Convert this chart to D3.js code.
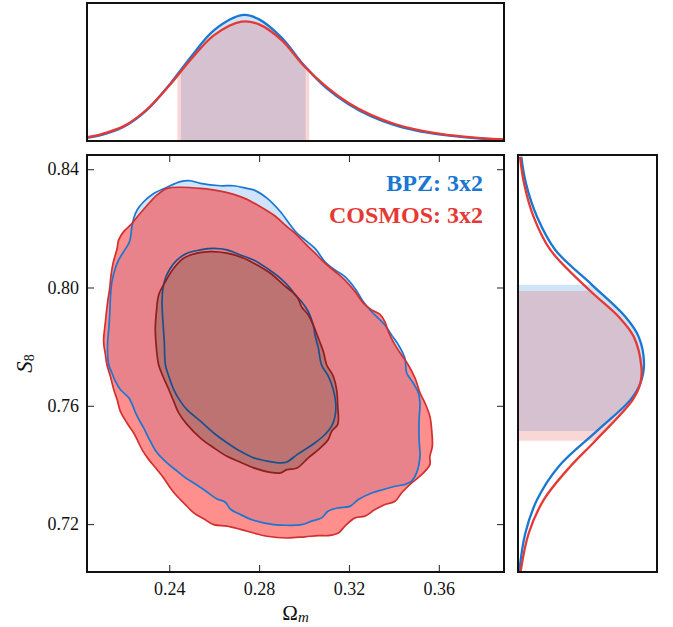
<!DOCTYPE html>
<html>
<head>
<meta charset="utf-8">
<script src="https://cdn.jsdelivr.net/npm/d3@7"></script>
<style>
html,body{margin:0;padding:0;background:#fff;}
svg{display:block;}
</style>
</head>
<body>
<svg id="chart" width="673" height="627"></svg>
<script>
// ---------------- DATA ----------------
const seriesNames = ["BPZ: 3x2", "COSMOS: 3x2"];
const xTicks = [0.24, 0.28, 0.32, 0.36];
const yTicks = [0.72, 0.76, 0.80, 0.84];
const xTickLabels = ["0.24", "0.28", "0.32", "0.36"];
const yTickLabels = ["0.72", "0.76", "0.80", "0.84"];

// 2D contours [Omega_m, S8]
const bpzOuter = [
[.2494,.8361],[.2539,.8352],[.2628,.8344],[.2687,.8344],[.2746,.8335],[.2776,.8330],[.2835,.8302],[.2895,.8256],[.2939,.8211],[.2969,.8183],
[.3004,.8161],[.3049,.8132],[.3093,.8087],[.3138,.8059],[.3182,.8037],[.3227,.7997],[.3264,.7952],[.3301,.7918],[.3331,.7896],[.3360,.7873],[.3390,.7839],[.3420,.7806],[.3449,.7761],
[.3457,.7711],[.3486,.7677],[.3509,.7644],[.3516,.7610],[.3512,.7553],[.3512,.7486],[.3516,.7429],[.3501,.7373],[.3479,.7345],[.3449,.7334],[.3405,.7328],[.3353,.7317],[.3301,.7305],[.3242,.7283],[.3204,.7260],[.3153,.7255],[.3108,.7244],[.3078,.7221],[.3034,.7210],[.2989,.7198],
[.2924,.7196],[.2865,.7198],[.2776,.7213],[.2717,.7232],[.2672,.7251],[.2650,.7274],[.2613,.7285],[.2553,.7317],[.2509,.7339],[.2479,.7353],[.2435,.7379],[.2390,.7407],[.2346,.7441],[.2316,.7480],[.2286,.7525],[.2257,.7565],[.2220,.7627],[.2182,.7655],[.2160,.7683],[.2145,.7711],
[.2131,.7738],[.2126,.7772],[.2126,.7817],[.2131,.7862],[.2135,.7907],[.2138,.7963],[.2145,.8020],[.2160,.8065],[.2175,.8093],[.2197,.8121],[.2220,.8149],[.2227,.8166],[.2234,.8206],[.2242,.8234],[.2257,.8262],[.2286,.8290],[.2331,.8318],[.2390,.8339],[.2450,.8358]
];
const cosmosOuter = [
[.2390,.8335],[.2450,.8339],[.2539,.8335],[.2628,.8326],[.2687,.8315],[.2746,.8298],[.2806,.8273],[.2865,.8245],[.2924,.8206],[.2969,.8177],
[.3004,.8149],[.3049,.8116],[.3093,.8082],[.3138,.8054],[.3182,.8025],[.3227,.7986],[.3264,.7947],[.3301,.7924],[.3338,.7909],[.3360,.7884],[.3375,.7851],[.3405,.7806],[.3434,.7772],[.3464,.7738],
[.3494,.7694],[.3516,.7644],[.3538,.7610],[.3560,.7565],[.3568,.7520],[.3571,.7463],[.3560,.7429],[.3560,.7401],[.3523,.7367],[.3479,.7339],[.3434,.7305],[.3405,.7277],[.3360,.7266],[.3316,.7249],[.3271,.7227],[.3227,.7221],[.3182,.7193],[.3153,.7170],[.3108,.7161],[.3064,.7161],[.3004,.7157],
[.2924,.7153],[.2835,.7159],[.2776,.7170],[.2717,.7182],[.2657,.7193],[.2598,.7198],[.2553,.7218],[.2509,.7238],[.2464,.7272],[.2435,.7294],[.2405,.7322],[.2375,.7356],[.2346,.7384],[.2309,.7418],[.2279,.7452],[.2264,.7475],[.2242,.7508],[.2212,.7542],[.2182,.7582],[.2168,.7621],[.2153,.7655],[.2138,.7700],
[.2123,.7738],[.2116,.7772],[.2108,.7817],[.2116,.7884],[.2126,.7952],[.2135,.7997],[.2141,.8042],[.2150,.8082],[.2168,.8132],[.2175,.8161],[.2197,.8189],[.2227,.8211],[.2271,.8251],[.2316,.8290],[.2346,.8313]
];
const bpzInner = [
[.2598,.8132],[.2657,.8127],[.2717,.8110],[.2776,.8093],[.2835,.8065],[.2895,.8031],[.2939,.7997],
[.2960,.7975],[.2989,.7952],[.3019,.7918],[.3041,.7873],[.3049,.7839],[.3064,.7794],[.3078,.7738],
[.3108,.7700],[.3130,.7655],[.3141,.7610],[.3138,.7565],[.3123,.7531],[.3093,.7503],[.3049,.7475],[.3004,.7452],
[.2969,.7435],[.2924,.7410],[.2895,.7407],[.2835,.7413],[.2776,.7424],[.2717,.7446],[.2657,.7475],[.2598,.7508],[.2539,.7548],[.2479,.7587],[.2450,.7615],[.2420,.7655],[.2398,.7700],
[.2383,.7738],[.2378,.7817],[.2372,.7884],[.2368,.7952],[.2372,.7997],[.2383,.8031],[.2405,.8065],[.2435,.8093],[.2479,.8116],[.2539,.8127]
];
const cosmosInner = [
[.2583,.8121],[.2657,.8116],[.2732,.8099],[.2791,.8076],[.2850,.8048],[.2910,.8008],[.2969,.7969],
[.2989,.7935],[.3019,.7907],[.3041,.7873],[.3064,.7828],[.3086,.7783],[.3101,.7738],
[.3130,.7700],[.3145,.7655],[.3150,.7598],[.3150,.7537],[.3123,.7514],[.3108,.7486],[.3064,.7452],[.3019,.7424],
[.2969,.7390],[.2924,.7384],[.2895,.7373],[.2850,.7375],[.2776,.7390],[.2717,.7409],[.2657,.7429],[.2598,.7458],[.2539,.7491],[.2479,.7537],[.2442,.7576],[.2420,.7615],[.2398,.7655],[.2372,.7700],
[.2353,.7738],[.2343,.7794],[.2338,.7862],[.2343,.7918],[.2353,.7975],[.2383,.8020],[.2420,.8065],[.2464,.8099],[.2524,.8116]
];

// 1D marginal of Omega_m [Omega_m, density]
const bpzOm = [[.2034,.024],[.21,.048],[.22,.115],[.23,.245],[.24,.445],[.25,.675],[.26,.88],[.273,1.0],[.28,.965],[.29,.82],[.30,.60],[.31,.42],[.32,.29],[.33,.195],[.34,.128],[.35,.083],[.36,.053],[.37,.032],[.38,.018],[.389,.01]];
const cosmosOm = [[.2034,.03],[.21,.055],[.22,.12],[.23,.25],[.24,.44],[.25,.655],[.26,.84],[.2722,.947],[.28,.925],[.29,.80],[.30,.595],[.31,.43],[.32,.30],[.33,.205],[.34,.137],[.35,.09],[.36,.058],[.37,.036],[.38,.021],[.389,.013]];
// 1D marginal of S8 [S8, density]
const bpzS8 = [[.7040,.010],[.7169,.058],[.7282,.151],[.7395,.323],[.7515,.627],[.7620,.892],[.7676,.971],[.7744,1.0],[.7834,.957],[.7901,.852],[.8009,.587],[.8127,.296],[.8239,.151],[.8352,.063],[.8442,.026]];
const cosmosS8 = [[.7040,.021],[.7169,.085],[.7282,.204],[.7395,.415],[.7482,.614],[.7620,.910],[.7676,.971],[.7732,.979],[.7834,.918],[.7901,.799],[.7988,.574],[.8127,.257],[.8239,.124],[.8352,.048],[.8442,.016]];
// 68% intervals
const bpzOmInt = [0.2452, 0.3007];
const cosmosOmInt = [0.2436, 0.3023];
const bpzS8Int = [0.7515, 0.8009];
const cosmosS8Int = [0.7482, 0.7988];

// ---------------- LAYOUT ----------------
const svg = d3.select("#chart");
const M = {l: 87, r: 504, t: 155, b: 572};
const T = {t: 3, b: 141};
const R = {l: 518, r: 657};

const x = d3.scaleLinear().domain([0.2034, 0.389]).range([M.l, M.r]);
const y = d3.scaleLinear().domain([0.7038, 0.8448]).range([M.b, M.t]);
const yTop = d3.scaleLinear().domain([0, 1.095]).range([T.b, T.t]);
const xRight = d3.scaleLinear().domain([0, 1.103]).range([R.l, R.r]);

const blue = "#1976D2", red = "#E53935";
const serif = "'Liberation Serif', 'Times New Roman', serif";

const defs = svg.append("defs");
defs.append("clipPath").attr("id","clipMain").append("rect")
  .attr("x", M.l).attr("y", M.t).attr("width", M.r - M.l).attr("height", M.b - M.t);
defs.append("clipPath").attr("id","clipTop").append("rect")
  .attr("x", M.l).attr("y", T.t).attr("width", M.r - M.l).attr("height", T.b - T.t);
defs.append("clipPath").attr("id","clipRight").append("rect")
  .attr("x", R.l).attr("y", M.t).attr("width", R.r - R.l).attr("height", M.b - M.t);

function intervalClipX(id, iv){
  defs.append("clipPath").attr("id", id).append("rect")
    .attr("x", x(iv[0])).attr("y", T.t).attr("width", x(iv[1]) - x(iv[0])).attr("height", T.b - T.t);
}
function intervalClipY(id, iv){
  defs.append("clipPath").attr("id", id).append("rect")
    .attr("x", R.l).attr("y", y(iv[1])).attr("width", R.r - R.l).attr("height", y(iv[0]) - y(iv[1]));
}
intervalClipX("ivTopB", bpzOmInt);
intervalClipX("ivTopC", cosmosOmInt);
intervalClipY("ivRightB", bpzS8Int);
intervalClipY("ivRightC", cosmosS8Int);

// ---------------- MAIN PANEL ----------------
const mainG = svg.append("g").attr("clip-path","url(#clipMain)");
const cline = d3.line().x(d => x(d[0])).y(d => y(d[1])).curve(d3.curveCatmullRomClosed.alpha(0.5));

mainG.append("path").attr("d", cline(bpzOuter)).attr("fill", "#cfe4fa");
mainG.append("path").attr("d", cline(cosmosOuter)).attr("fill", "rgb(255,48,44)").attr("fill-opacity", 0.54);
mainG.append("path").attr("d", cline(cosmosInner)).attr("fill", "rgb(147,99,91)").attr("fill-opacity", 0.5);

mainG.append("path").attr("d", cline(bpzOuter)).attr("fill","none").attr("stroke", blue).attr("stroke-width", 1.7);
mainG.append("path").attr("d", cline(cosmosOuter)).attr("fill","none").attr("stroke", "#d32f2f").attr("stroke-width", 1.7);
mainG.append("path").attr("d", cline(bpzInner)).attr("fill","none").attr("stroke", "#18508f").attr("stroke-width", 1.7);
mainG.append("path").attr("d", cline(cosmosInner)).attr("fill","none").attr("stroke", "#8e1f1f").attr("stroke-width", 1.7);

// axes
const axB = svg.append("g").attr("transform", `translate(0,${M.b})`)
  .call(d3.axisBottom(x).tickValues(xTicks).tickFormat((d,i) => xTickLabels[i]).tickSize(-7).tickPadding(10));
const axL = svg.append("g").attr("transform", `translate(${M.l},0)`)
  .call(d3.axisLeft(y).tickValues(yTicks).tickFormat((d,i) => yTickLabels[i]).tickSize(-7).tickPadding(8));
const axT = svg.append("g").attr("transform", `translate(0,${M.t})`)
  .call(d3.axisTop(x).tickValues(xTicks).tickFormat("").tickSize(-7));
const axR = svg.append("g").attr("transform", `translate(${M.r},0)`)
  .call(d3.axisRight(y).tickValues(yTicks).tickFormat("").tickSize(-7));
[axB, axL, axT, axR].forEach(a => {
  a.select(".domain").remove();
  a.selectAll(".tick line").attr("stroke", "#333").attr("stroke-width", 1.1);
  a.selectAll("text").attr("font-family", serif).attr("font-size", 18).attr("fill", "#111");
});

// legend
svg.append("text").attr("x", 483).attr("y", 191).attr("text-anchor","end")
  .attr("font-family", serif).attr("font-weight","bold").attr("font-size", 24).attr("fill", blue)
  .text(seriesNames[0]);
svg.append("text").attr("x", 483).attr("y", 223).attr("text-anchor","end")
  .attr("font-family", serif).attr("font-weight","bold").attr("font-size", 24).attr("fill", red)
  .text(seriesNames[1]);

// axis labels
const xl = svg.append("text").attr("x", (M.l + M.r)/2).attr("y", 620).attr("text-anchor","middle")
  .attr("font-family", serif).attr("font-size", 21).attr("fill", "#111");
xl.append("tspan").text("Ω");
xl.append("tspan").attr("font-style","italic").attr("font-size", 15).attr("dy", 2).text("m");

const yl = svg.append("text").attr("transform", `translate(32,${(M.t + M.b)/2}) rotate(-90)`).attr("text-anchor","middle")
  .attr("font-family", serif).attr("font-size", 23).attr("fill", "#111");
yl.append("tspan").attr("font-style","italic").text("S");
yl.append("tspan").attr("font-size", 14).attr("dy", 1.5).text("8");

// ---------------- TOP MARGINAL ----------------
const topG = svg.append("g").attr("clip-path","url(#clipTop)");
const smooth = d3.curveCatmullRom.alpha(0.5);
const areaTop = d3.area().x(d => x(d[0])).y0(yTop(0)).y1(d => yTop(d[1])).curve(smooth);
const lineTop = d3.line().x(d => x(d[0])).y(d => yTop(d[1])).curve(smooth);
topG.append("g").attr("clip-path","url(#ivTopB)").append("path").attr("d", areaTop(bpzOm)).attr("fill", blue).attr("fill-opacity", 0.2);
topG.append("g").attr("clip-path","url(#ivTopC)").append("path").attr("d", areaTop(cosmosOm)).attr("fill", red).attr("fill-opacity", 0.2);
topG.append("path").attr("d", lineTop(bpzOm)).attr("fill","none").attr("stroke", blue).attr("stroke-width", 2.3);
topG.append("path").attr("d", lineTop(cosmosOm)).attr("fill","none").attr("stroke", red).attr("stroke-width", 2.3);

// ---------------- RIGHT MARGINAL ----------------
const rightG = svg.append("g").attr("clip-path","url(#clipRight)");
const areaR = d3.area().y(d => y(d[0])).x0(xRight(0)).x1(d => xRight(d[1])).curve(smooth);
const lineR = d3.line().y(d => y(d[0])).x(d => xRight(d[1])).curve(smooth);
const byS8 = (a) => a.slice().sort((p, q) => q[0] - p[0]);
rightG.append("g").attr("clip-path","url(#ivRightB)").append("path").attr("d", areaR(byS8(bpzS8))).attr("fill", blue).attr("fill-opacity", 0.2);
rightG.append("g").attr("clip-path","url(#ivRightC)").append("path").attr("d", areaR(byS8(cosmosS8))).attr("fill", red).attr("fill-opacity", 0.2);
rightG.append("path").attr("d", lineR(byS8(bpzS8))).attr("fill","none").attr("stroke", blue).attr("stroke-width", 2.3);
rightG.append("path").attr("d", lineR(byS8(cosmosS8))).attr("fill","none").attr("stroke", red).attr("stroke-width", 2.3);

// ---------------- FRAMES ----------------
const frame = (x0, y0, x1, y1) => svg.append("rect").attr("x", x0).attr("y", y0)
  .attr("width", x1 - x0).attr("height", y1 - y0).attr("fill","none").attr("stroke", "#111").attr("stroke-width", 2);
frame(M.l, M.t, M.r, M.b);
frame(M.l, T.t, M.r, T.b);
frame(R.l, M.t, R.r, M.b);
</script>
</body>
</html>
